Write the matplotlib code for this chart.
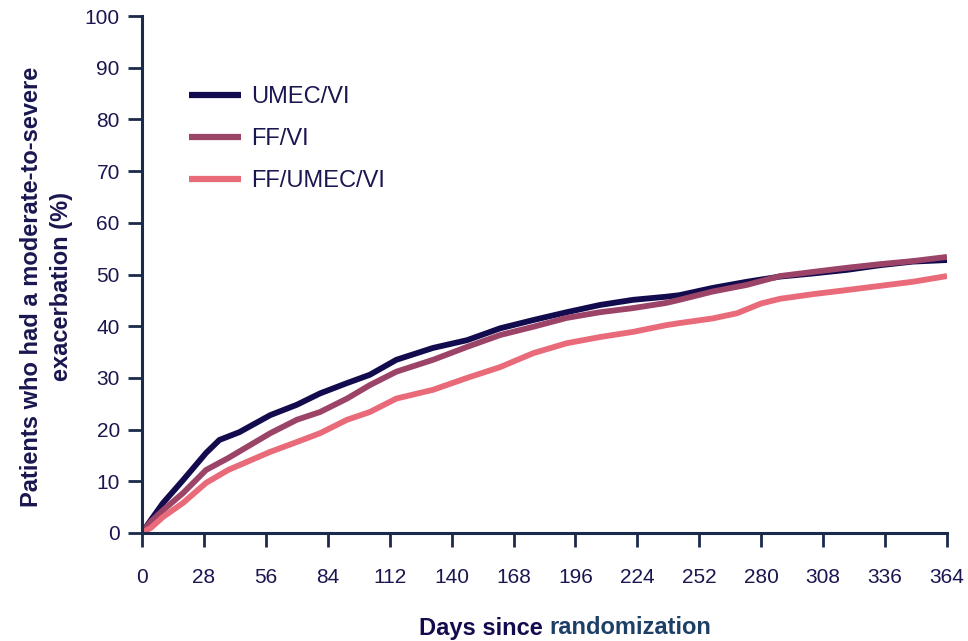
import matplotlib
matplotlib.use("Agg")
import matplotlib.pyplot as plt

plt.rcParams['font.family'] = ['Liberation Sans', 'DejaVu Sans']

# values (days, % with exacerbation)
umec_days = [0, 4, 9.5, 18.5, 29, 35, 44, 58, 70, 80.5, 92.7, 103, 115, 131.6, 147, 162, 177, 192, 207, 222, 237, 243, 258, 273.6, 288.5, 303.4, 318.8, 333.7, 348.6, 364]
umec_pct = [0, 2.5, 5.8, 10.2, 15.5, 18, 19.5, 22.8, 24.8, 27, 29, 30.6, 33.5, 35.8, 37.3, 39.6, 41.2, 42.7, 44.1, 45.1, 45.7, 46.0, 47.4, 48.6, 49.6, 50.2, 50.9, 51.8, 52.5, 52.8]

ffvi_days = [0, 4, 9.5, 18.5, 29, 39, 58, 70, 80.5, 92.7, 103, 115, 131.6, 147, 162, 177, 192, 207, 222, 237, 243, 258, 273.6, 288.5, 303.4, 318.8, 333.7, 348.6, 364]
ffvi_pct = [0, 2.2, 4.4, 7.7, 12.2, 14.5, 19.3, 21.9, 23.4, 26, 28.6, 31.2, 33.5, 36, 38.3, 39.9, 41.6, 42.7, 43.5, 44.5, 45.1, 46.7, 48, 49.7, 50.5, 51.3, 52, 52.6, 53.4]

triple_days = [0, 4, 9.5, 18.5, 29, 39, 58, 70, 80.5, 92.7, 103, 115, 131.6, 147, 162, 177, 192, 207, 222, 237, 243, 258, 269, 280, 288.5, 303.4, 318.8, 333.7, 348.6, 364]
triple_pct = [0, 1.0, 3.1, 5.8, 9.7, 12.2, 15.7, 17.6, 19.3, 21.9, 23.4, 26, 27.7, 30, 32.1, 34.8, 36.7, 37.9, 38.9, 40.2, 40.6, 41.5, 42.5, 44.4, 45.3, 46.2, 47, 47.8, 48.6, 49.7]

x_ticks = list(range(0, 365, 28))
y_ticks = list(range(0, 101, 10))

navy = '#1b2a4b'
text_c = '#1a1650'

fig = plt.figure(figsize=(9.68, 6.41), dpi=100)
ax = fig.add_axes([0.1467, 0.1685, 0.8316, 0.8065])

ax.plot(umec_days, umec_pct, color='#120b4d', lw=4.2, label='UMEC/VI', solid_capstyle='butt')
ax.plot(ffvi_days, ffvi_pct, color='#9b4468', lw=4.2, label='FF/VI', solid_capstyle='butt')
ax.plot(triple_days, triple_pct, color='#e96a79', lw=4.2, label='FF/UMEC/VI', solid_capstyle='butt')

ax.set_xlim(0, 364)
ax.set_ylim(0, 100)
ax.set_xticks(x_ticks)
ax.set_yticks(y_ticks)

for s in ['top', 'right']:
    ax.spines[s].set_visible(False)
for s in ['left', 'bottom']:
    ax.spines[s].set_linewidth(2.2)
    ax.spines[s].set_color(navy)
    ax.spines[s].set_clip_on(False)

ax.tick_params(axis='both', direction='out', length=10, width=2, color=navy,
               labelsize=15, labelcolor=text_c)
ax.tick_params(axis='x', pad=15)
ax.tick_params(axis='y', pad=6)

ax.set_ylabel('Patients who had a moderate-to-severe\nexacerbation (%)', fontsize=17,
              fontweight='bold', color=text_c, linespacing=1.38)
ax.yaxis.set_label_coords(-0.086, 0.476)

fig.text(543 / 968, 1 - 628 / 641, 'Days since', ha='right', va='center',
         fontsize=17, fontweight='bold', color='#120b4d')
fig.text(549 / 968, 1 - 628 / 641, 'randomization', ha='left', va='center',
         fontsize=17, fontweight='bold', color='#1d3f66')

leg = ax.legend(loc='upper left', bbox_to_anchor=(189 / 968, 1 - 86 / 641),
                bbox_transform=fig.transFigure, frameon=False, fontsize=17,
                handlelength=2.2, handletextpad=0.42, labelspacing=0.85,
                borderpad=0, borderaxespad=0)
for t in leg.get_texts():
    t.set_color(text_c)
for h in leg.get_lines():
    h.set_linewidth(4.5)

fig.savefig('out.png', dpi=100)
